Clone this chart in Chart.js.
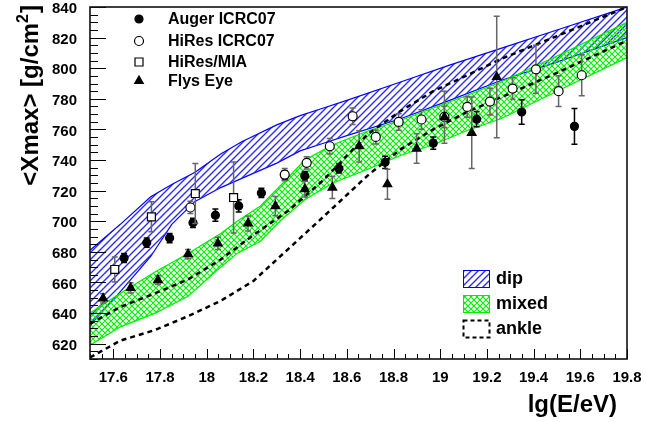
<!DOCTYPE html>
<html>
<head>
<meta charset="utf-8">
<script src="https://cdn.jsdelivr.net/npm/chart.js@4/dist/chart.umd.min.js"></script>
<style>
  body { margin: 0; background: #fff; }
  canvas { display: block; }
</style>
</head>
<body>
<canvas id="grafico" width="646" height="422"></canvas>
<script>
// ejes
const xTicks = [17.6, 17.8, 18, 18.2, 18.4, 18.6, 18.8, 19, 19.2, 19.4, 19.6, 19.8];
const yTicks = [620, 640, 660, 680, 700, 720, 740, 760, 780, 800, 820, 840];

// banda "dip"
const dipE = [17.5, 17.63, 17.76, 17.85, 17.95, 18.06, 18.15, 18.3, 18.4, 18.5, 18.6, 18.83, 19.04, 19.26, 19.5, 19.8];
const dipAlto = [681, 698, 716, 724, 732, 744, 752, 763, 769, 774, 779, 791, 802, 813, 825, 840];
const dipBajo = [632, 654, 677, 698, 713, 722, 728, 738, 746, 751, 756, 767, 779, 792, 804, 820];

// banda "mixed"
const mixE = [17.5, 17.63, 17.78, 17.92, 18.06, 18.13, 18.23, 18.32, 18.42, 18.54, 18.69, 18.83, 18.97, 19.11, 19.26, 19.5, 19.8];
const mixAlto = [640, 653, 667, 679, 692, 700, 710, 724, 740, 750, 759, 766, 774, 782, 791, 808, 830];
const mixBajo = [619, 631, 640, 651, 670, 679, 687, 701, 714, 725, 734, 743, 750, 759, 767, 785, 807];

// banda "ankle" (lineas discontinuas)
const ankE = [17.5, 17.63, 17.78, 17.92, 18.06, 18.2, 18.35, 18.5, 18.69, 18.83, 18.97, 19.11, 19.26, 19.5, 19.8];
const ankAlto = [633, 644, 653, 662, 675, 691, 707, 727, 757, 772, 785, 795, 806, 821, 840];
const ankBajo = [611, 622, 629, 638, 648, 661, 682, 703, 730, 747, 760, 771, 781, 797, 818];

// Auger ICRC07
const augerE = [17.646, 17.743, 17.841, 17.941, 18.037, 18.137, 18.234, 18.334, 18.42, 18.566, 18.764, 18.97, 19.156, 19.349, 19.575];
const augerX = [676, 686, 689, 699, 704, 710, 718.5, 730, 729.5, 734.5, 738.5, 751, 766.7, 771.4, 762];
const augerErr = [3, 3, 3, 3, 4, 4, 3, 3, 3, 3, 4, 4, 5, 8, 11.6];

// HiRes ICRC07
const hiresE = [17.93, 18.334, 18.428, 18.527, 18.625, 18.724, 18.822, 18.92, 19.018, 19.116, 19.213, 19.31, 19.41, 19.507, 19.606];
const hiresX = [709, 730.5, 738.2, 749, 768.6, 755.1, 764.9, 766.5, 768.2, 774.7, 778.2, 786.7, 799.3, 785, 795.4];
const hiresErr = [4, 4, 4, 5, 5.4, 4.6, 5.4, 6.3, 7, 6.7, 8.7, 7, 15.7, 10, 13.4];

// HiRes/MIA
const miaE = [17.606, 17.763, 17.951, 18.115];
const miaX = [668.5, 702.9, 718.1, 715.5];
const miaErr = [8.2, 9.8, 19.6, 23.2];

// Flys Eye
const flysE = [17.556, 17.674, 17.791, 17.92, 18.048, 18.177, 18.294, 18.42, 18.538, 18.653, 18.774, 18.899, 19.018, 19.135, 19.242];
const flysX = [649.6, 656.5, 661.6, 678.5, 685.5, 698.6, 709.9, 721, 722, 749, 724.2, 747.5, 768, 757.8, 794.3];
const flysErr = [3, 3.3, 3, 3, 4, 4.9, 6.3, 5.1, 7.2, 10.2, 9.8, 9.6, 17, 23.4, 39.7];

const FUENTE = '"Liberation Sans", Arial, Helvetica, sans-serif';
const AZUL = '#0000ff';
const VERDE = '#00f000';
const canvas = document.getElementById('grafico');
const ctxPrincipal = canvas.getContext('2d');

// patron rayado para las bandas
function crearRayado(color, cruzado, grosor, s) {
    const c = document.createElement('canvas');
    c.width = s;
    c.height = s;
    const g = c.getContext('2d');
    g.strokeStyle = color;
    g.lineWidth = grosor;
    g.beginPath();
    g.moveTo(-2, s + 2); g.lineTo(s + 2, -2);
    g.moveTo(-2, 2); g.lineTo(2, -2);
    g.moveTo(s - 2, s + 2); g.lineTo(s + 2, s - 2);
    if (cruzado) {
        g.moveTo(-2, -2); g.lineTo(s + 2, s + 2);
        g.moveTo(s - 2, -2); g.lineTo(s + 2, 2);
        g.moveTo(-2, s - 2); g.lineTo(2, s + 2);
    }
    g.stroke();
    return ctxPrincipal.createPattern(c, 'repeat');
}

const rayadoAzul = crearRayado('#2b2bff', false, 1.4, 7);
const rayadoVerde = crearRayado(VERDE, true, 1.2, 6);

function puntos(xs, ys) {
    return xs.map((x, i) => ({ x: x, y: ys[i] }));
}

function banda(xs, ys, color, relleno, orden, discontinua) {
    return {
        data: puntos(xs, ys),
        borderColor: color,
        borderWidth: discontinua ? 2.5 : 1.2,
        borderDash: discontinua ? [5, 4] : [],
        backgroundColor: relleno || 'rgba(0,0,0,0)',
        fill: relleno ? { target: '+1', above: relleno, below: relleno } : false,
        pointRadius: 0,
        tension: 0,
        order: orden
    };
}

function serie(xs, ys, err, estilo, radio, fondo, colorErr) {
    return {
        data: puntos(xs, ys),
        err: err,
        colorErr: colorErr,
        showLine: false,
        fill: false,
        backgroundColor: fondo,
        borderColor: '#000',
        pointStyle: estilo,
        pointRadius: radio,
        pointBackgroundColor: fondo,
        pointBorderColor: '#000',
        pointBorderWidth: 1.2,
        order: 0
    };
}

// barras de error dibujadas justo antes de cada serie
const barrasError = {
    id: 'barrasError',
    beforeDatasetDraw(chart, args) {
        const ds = chart.data.datasets[args.index];
        if (!ds.err) return;
        const ys = chart.scales.y;
        const ctx = chart.ctx;
        const area = chart.chartArea;
        ctx.save();
        ctx.beginPath();
        ctx.rect(area.left, area.top, area.right - area.left, area.bottom - area.top);
        ctx.clip();
        ctx.strokeStyle = ds.colorErr;
        ctx.lineWidth = 1.5;
        args.meta.data.forEach((p, i) => {
            const v = ds.data[i].y;
            const y1 = ys.getPixelForValue(v + ds.err[i]);
            const y2 = ys.getPixelForValue(v - ds.err[i]);
            ctx.beginPath();
            ctx.moveTo(p.x, y1); ctx.lineTo(p.x, y2);
            ctx.moveTo(p.x - 3, y1); ctx.lineTo(p.x + 3, y1);
            ctx.moveTo(p.x - 3, y2); ctx.lineTo(p.x + 3, y2);
            ctx.stroke();
        });
        ctx.restore();
    }
};

function marcador(ctx, tipo, x, y) {
    ctx.beginPath();
    if (tipo === 'lleno' || tipo === 'hueco') {
        ctx.arc(x, y, tipo === 'lleno' ? 4 : 4.5, 0, Math.PI * 2);
    } else if (tipo === 'cuadro') {
        ctx.rect(x - 4, y - 4, 8, 8);
    } else {
        ctx.moveTo(x, y - 5);
        ctx.lineTo(x + 4.3, y + 2.5);
        ctx.lineTo(x - 4.3, y + 2.5);
        ctx.closePath();
    }
    ctx.fillStyle = (tipo === 'hueco' || tipo === 'cuadro') ? '#fff' : '#000';
    ctx.fill();
    ctx.strokeStyle = '#000';
    ctx.lineWidth = 1.2;
    ctx.stroke();
}

// marco, marcas hacia dentro, titulos y leyendas al estilo ROOT
const marcoRoot = {
    id: 'marcoRoot',
    afterDraw(chart) {
        const ctx = chart.ctx;
        const a = chart.chartArea;
        const xs = chart.scales.x;
        const ys = chart.scales.y;
        ctx.save();
        ctx.strokeStyle = '#000';
        ctx.lineWidth = 1;
        ctx.beginPath();
        for (let i = 0; i <= 46; i++) {
            const v = Math.round((17.5 + i * 0.05) * 100) / 100;
            const mayor = Math.round(v * 100) % 20 === 0;
            const px = Math.round(xs.getPixelForValue(v)) + 0.5;
            ctx.moveTo(px, a.bottom);
            ctx.lineTo(px, a.bottom - (mayor ? 10 : 5));
        }
        for (let v = 610; v <= 840; v += 5) {
            const mayor = v % 20 === 0;
            const py = Math.round(ys.getPixelForValue(v)) + 0.5;
            ctx.moveTo(a.left, py);
            ctx.lineTo(a.left + (mayor ? 16 : 8), py);
        }
        ctx.stroke();
        ctx.lineWidth = 1.6;
        ctx.strokeStyle = '#111';
        ctx.strokeRect(a.left, a.top, a.right - a.left, a.bottom - a.top);

        // titulos de ejes
        ctx.fillStyle = '#000';
        ctx.font = 'bold 24px ' + FUENTE;
        ctx.textAlign = 'right';
        ctx.textBaseline = 'alphabetic';
        ctx.fillText('lg(E/eV)', 617, 412);

        ctx.translate(38, 5);
        ctx.rotate(-Math.PI / 2);
        ctx.textAlign = 'left';
        const t1 = '<Xmax> [g/cm';
        const t3 = ']';
        ctx.font = 'bold 24px ' + FUENTE;
        const w1 = ctx.measureText(t1).width;
        const w3 = ctx.measureText(t3).width;
        ctx.font = 'bold 16px ' + FUENTE;
        const w2 = ctx.measureText('2').width;
        const inicio = -(w1 + w2 + w3 + 1);
        ctx.font = 'bold 24px ' + FUENTE;
        ctx.fillText(t1, inicio, 0);
        ctx.font = 'bold 16px ' + FUENTE;
        ctx.fillText('2', inicio + w1, -10);
        ctx.font = 'bold 24px ' + FUENTE;
        ctx.fillText(t3, inicio + w1 + w2 + 1, 0);
        ctx.restore();

        // leyenda de datos
        ctx.save();
        ctx.font = 'bold 16px ' + FUENTE;
        ctx.textBaseline = 'middle';
        ctx.fillStyle = '#000';
        const entradas = [
            ['lleno', 'Auger ICRC07', 19],
            ['hueco', 'HiRes ICRC07', 41],
            ['cuadro', 'HiRes/MIA', 62],
            ['triangulo', 'Flys Eye', 81]
        ];
        entradas.forEach(e => {
            marcador(ctx, e[0], 139, e[2]);
            ctx.fillStyle = '#000';
            ctx.fillText(e[1], 168, e[2] + 1);
        });

        // leyenda de modelos
        ctx.font = 'bold 18px ' + FUENTE;
        const cajas = [
            [rayadoAzul, AZUL, 'dip', 270],
            [rayadoVerde, VERDE, 'mixed', 295],
            [null, '#000', 'ankle', 320]
        ];
        cajas.forEach(c => {
            if (c[0]) {
                ctx.fillStyle = c[0];
                ctx.fillRect(463.5, c[3] + 0.5, 26, 17);
                ctx.setLineDash([]);
                ctx.lineWidth = 1;
            } else {
                ctx.setLineDash([4, 3]);
                ctx.lineWidth = 2;
            }
            ctx.strokeStyle = c[1];
            ctx.strokeRect(463.5, c[3] + 0.5, 26, 17);
            ctx.setLineDash([]);
            ctx.fillStyle = '#000';
            ctx.fillText(c[2], 496, c[3] + 9);
        });
        ctx.restore();
    }
};

new Chart(ctxPrincipal, {
    type: 'line',
    data: {
        datasets: [
            banda(dipE, dipAlto, AZUL, rayadoAzul, 3),
            banda(dipE, dipBajo, AZUL, null, 3),
            banda(mixE, mixAlto, VERDE, rayadoVerde, 2),
            banda(mixE, mixBajo, VERDE, null, 2),
            banda(ankE, ankAlto, '#000', null, 1, true),
            banda(ankE, ankBajo, '#000', null, 1, true),
            serie(flysE, flysX, flysErr, 'triangle', 5, '#000', '#666'),
            serie(miaE, miaX, miaErr, 'rect', 5.6, '#fff', '#666'),
            serie(hiresE, hiresX, hiresErr, 'circle', 4.5, '#fff', '#666'),
            serie(augerE, augerX, augerErr, 'circle', 4, '#000', '#000')
        ]
    },
    options: {
        responsive: false,
        animation: false,
        devicePixelRatio: 1,
        layout: { padding: { top: 7, right: 19, left: 0, bottom: 0 } },
        plugins: {
            legend: { display: false },
            tooltip: { enabled: false }
        },
        scales: {
            x: {
                type: 'linear',
                min: 17.5,
                max: 19.8,
                grid: { display: false },
                border: { display: false },
                afterBuildTicks: s => { s.ticks = xTicks.map(v => ({ value: v })); },
                afterFit: s => { s.height = 63; s.paddingLeft = 0; s.paddingRight = 0; },
                ticks: {
                    padding: 3,
                    color: '#000',
                    maxRotation: 0,
                    font: { family: FUENTE, size: 15, weight: 'bold', lineHeight: 1 },
                    callback: v => String(v)
                }
            },
            y: {
                min: 610,
                max: 840,
                grid: { display: false },
                border: { display: false },
                afterBuildTicks: s => { s.ticks = yTicks.map(v => ({ value: v })); },
                afterFit: s => { s.width = 90; s.paddingTop = 0; s.paddingBottom = 0; },
                ticks: {
                    padding: 5,
                    labelOffset: 2,
                    color: '#000',
                    font: { family: FUENTE, size: 15, weight: 'bold', lineHeight: 1 },
                    callback: v => String(v)
                }
            }
        }
    },
    plugins: [barrasError, marcoRoot]
});
</script>
</body>
</html>
